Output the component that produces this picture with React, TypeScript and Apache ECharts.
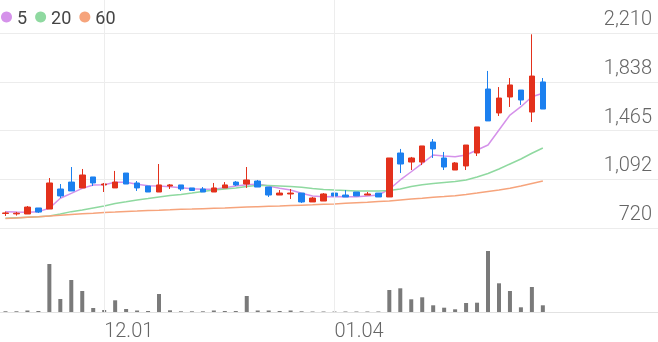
import React, { useEffect, useRef } from "react";
import * as echarts from "echarts";

const categories = [
  "11.18", "11.19", "11.20", "11.23", "11.24", "11.25", "11.26", "11.27", "11.30",
  "12.01", "12.02", "12.03", "12.04", "12.07", "12.08", "12.09", "12.10", "12.11", "12.14", "12.15",
  "12.16", "12.17", "12.18", "12.21", "12.22", "12.23", "12.24", "12.28", "12.29", "12.30",
  "01.04", "01.05", "01.06", "01.07", "01.08", "01.11", "01.12", "01.13", "01.14", "01.15",
  "01.18", "01.19", "01.20", "01.21", "01.22", "01.25", "01.26", "01.27", "01.28", "01.29",
  "02.01", "02.02", "02.03", "02.04", "02.05", "02.08", "02.09", "02.10", "02.15", "02.16",
];

const opens = [831, 828, 827, 873, 865, 1018, 1071, 1026, 1110, 1049, 1026, 1140, 1064, 1041, 995, 1041, 1049, 1026, 1018, 995, 1026, 1071, 1056, 1079, 1033, 972, 980, 987, 919, 926, 987, 972, 995, 972, 987, 957, 1293, 1224, 1224, 1377, 1255, 1163, 1194, 1293, 1782, 1599, 1721, 1774, 1606, 1836];
const closes = [835, 833, 880, 842, 1064, 965, 1003, 1125, 1064, 1056, 1071, 1056, 1026, 995, 1049, 1049, 1018, 1007, 995, 1026, 1049, 1049, 1087, 1033, 972, 987, 987, 919, 949, 980, 965, 957, 965, 980, 957, 1255, 1209, 1255, 1347, 1324, 1186, 1217, 1354, 1492, 1538, 1713, 1813, 1698, 1881, 1629];
const lows = [812, 815, 827, 835, 865, 949, 1003, 1026, 1041, 995, 1026, 1056, 1003, 995, 995, 1018, 1003, 1003, 995, 995, 1026, 1041, 1026, 1033, 957, 972, 942, 911, 919, 926, 949, 957, 965, 972, 957, 957, 1140, 1163, 1201, 1255, 1163, 1163, 1163, 1270, 1538, 1576, 1645, 1660, 1530, 1629];
const highs = [846, 843, 888, 873, 1102, 1056, 1186, 1171, 1110, 1064, 1156, 1140, 1079, 1041, 1209, 1056, 1049, 1026, 1033, 1064, 1071, 1079, 1186, 1087, 1033, 1010, 1018, 987, 957, 987, 987, 1010, 995, 995, 987, 1255, 1324, 1263, 1347, 1400, 1301, 1224, 1354, 1492, 1920, 1797, 1866, 1774, 2200, 1866];

const ma5 = [845, 842, 840, 845, 871, 947, 985, 1023, 1049, 1051, 1069, 1069, 1054, 1043, 1041, 1036, 1028, 1020, 1016, 1016, 1028, 1041, 1051, 1056, 1041, 1023, 1010, 985, 965, 959, 961, 959, 959, 965, 972, 1016, 1087, 1150, 1214, 1278, 1270, 1265, 1278, 1316, 1354, 1469, 1583, 1647, 1723, 1749];
const ma20 = [794, 798, 802, 806, 812, 827, 845, 858, 873, 888, 907, 920, 934, 945, 957, 968, 976, 987, 999, 1010, 1018, 1026, 1037, 1046, 1045, 1041, 1037, 1031, 1022, 1014, 1010, 1007, 1003, 1003, 1003, 1007, 1018, 1037, 1051, 1060, 1068, 1075, 1087, 1110, 1136, 1171, 1209, 1247, 1291, 1331];
const ma60 = [792, 796, 802, 806, 812, 817, 823, 829, 833, 838, 842, 847, 850, 854, 856, 859, 863, 865, 868, 871, 873, 877, 880, 883, 886, 888, 891, 894, 897, 901, 904, 909, 913, 917, 922, 926, 934, 942, 948, 955, 960, 966, 976, 987, 999, 1010, 1024, 1041, 1060, 1079];

const volumes = [700, 700, 1500, 1000, 48000, 13000, 32000, 21000, 4000, 2000, 11700, 3000, 1500, 1000, 18000, 1700, 700, 700, 700, 1500, 1000, 1000, 16000, 1500, 1500, 1000, 1500, 700, 500, 500, 500, 500, 500, 500, 500, 22000, 23700, 12700, 14700, 6700, 4300, 2700, 9000, 9300, 61000, 28700, 21000, 4700, 25000, 6700];

const yTickLabels = ["720", "1,092", "1,465", "1,838", "2,210"];
const legendNames = ["5", "20", "60"];
const labelDates = ["12.01", "01.04"];

const UP = "#e3311c";
const DOWN = "#1c80ef";
const FONT = "Roboto";

export default function App() {
  const ref = useRef<HTMLDivElement>(null);
  useEffect(() => {
    const chart = echarts.init(ref.current!, null, { renderer: "svg" });
    const candleData = opens.map((o, i) => [o, closes[i], lows[i], highs[i]]);
    chart.setOption({
      animation: false,
      legend: {
        data: legendNames,
        icon: "circle",
        itemWidth: 11,
        itemHeight: 11,
        itemGap: 8,
        left: 1,
        top: 8,
        padding: 0,
        z: 10,
        textStyle: { fontSize: 18, color: "#444", fontFamily: FONT },
      },
      grid: [
        { left: 0, right: 0, top: 33, height: 195 },
        { left: 0, right: 0, top: 250, height: 62 },
        { left: 0, right: 0, top: 0, height: 312 },
      ],
      xAxis: [
        { type: "category", data: categories, gridIndex: 0, show: false },
        {
          type: "category",
          data: categories,
          gridIndex: 1,
          axisLine: { lineStyle: { color: "#e2e2e2" } },
          axisTick: { show: false },
          axisLabel: {
            interval: (_i: number, v: string) => labelDates.includes(v),
            align: "left",
            fontSize: 20,
            color: "#666",
            margin: 8,
            fontFamily: FONT,
            fontWeight: 300,
          },
        },
        { type: "category", data: categories, gridIndex: 2, show: false },
      ],
      yAxis: [
        {
          type: "value",
          gridIndex: 0,
          position: "right",
          min: 720,
          max: 2210,
          interval: 372.5,
          axisLine: { show: false },
          axisTick: { show: false },
          splitLine: { lineStyle: { color: "#ececec" } },
          axisLabel: {
            inside: true,
            formatter: (v: number) => yTickLabels[Math.round((v - 720) / 372.5)],
            verticalAlign: "bottom",
            fontSize: 20,
            color: "#666",
            margin: 6,
            padding: [0, 0, 5, 0],
            fontFamily: FONT,
            fontWeight: 300,
          },
        },
        { type: "value", gridIndex: 1, min: 0, max: 62000, show: false },
        { type: "value", gridIndex: 2, min: 0, max: 1, show: false },
      ],
      series: [
        {
          type: "line",
          xAxisIndex: 2,
          yAxisIndex: 2,
          data: [],
          z: 0,
          markLine: {
            silent: true,
            symbol: ["none", "none"],
            label: { show: false },
            lineStyle: { color: "#ededed", width: 1, type: "solid" },
            data: labelDates.map((d) => ({ xAxis: d })),
          },
        },
        {
          name: "5",
          type: "line",
          data: ma5,
          symbol: "none",
          lineStyle: { width: 1.5, color: "#d592ea" },
          itemStyle: { color: "#d592ea" },
          z: 2,
        },
        {
          name: "20",
          type: "line",
          data: ma20,
          symbol: "none",
          lineStyle: { width: 1.5, color: "#8fd9a0" },
          itemStyle: { color: "#8fd9a0" },
          z: 2,
        },
        {
          name: "60",
          type: "line",
          data: ma60,
          symbol: "none",
          lineStyle: { width: 1.5, color: "#f6a47c" },
          itemStyle: { color: "#f6a47c" },
          z: 2,
        },
        {
          type: "candlestick",
          data: candleData,
          barWidth: 6,
          z: 3,
          itemStyle: { color: UP, color0: DOWN, borderColor: UP, borderColor0: DOWN, borderWidth: 1 },
        },
        {
          type: "bar",
          xAxisIndex: 1,
          yAxisIndex: 1,
          data: volumes,
          barWidth: 4,
          itemStyle: { color: "#7a7a7a" },
        },
      ],
    });
    return () => chart.dispose();
  }, []);
  return <div ref={ref} style={{ position: "fixed", left: 0, top: 0, width: 658, height: 342 }} />;
}
